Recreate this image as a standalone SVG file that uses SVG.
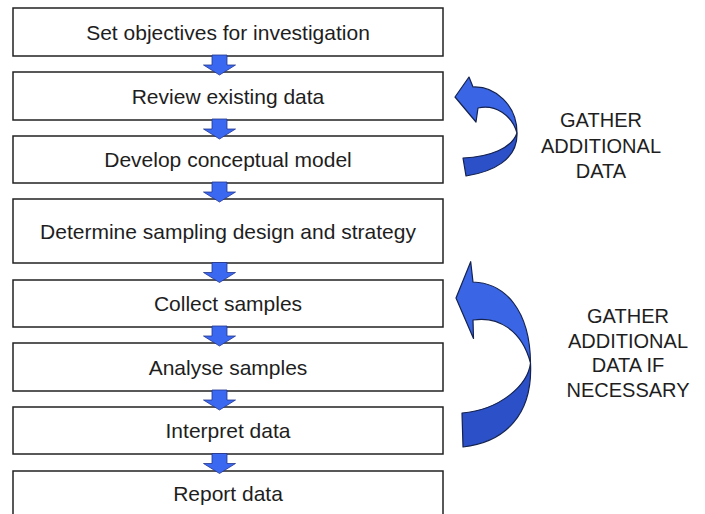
<svg xmlns="http://www.w3.org/2000/svg" width="705" height="514" viewBox="0 0 705 514">
  <defs>
    <style>
      .box { fill: #ffffff; stroke: #222222; stroke-width: 1.5; }
      .lbl { font-family: "Liberation Sans", Arial, sans-serif; font-size: 21px; fill: #1e1e1e; text-anchor: middle; }
      .note { font-family: "Liberation Sans", Arial, sans-serif; font-size: 20px; fill: #1e1e1e; text-anchor: middle; }
      .down { fill: #3b68f0; stroke: #22358f; stroke-width: 0.8; stroke-linejoin: miter; }
      .loop-lt { fill: #3a66e6; stroke: #14224f; stroke-width: 1.2; stroke-linejoin: round; }
      .loop-dk { fill: #2b50c8; stroke: #14224f; stroke-width: 1.2; stroke-linejoin: round; }
    </style>
    <!-- block arrow, origin at the top centre of the shaft -->
    <path id="down" d="M -7.5,-1 H 7.5 V 9 H 16 L 0,19 L -16,9 H -7.5 Z"/>
  </defs>

  <rect width="705" height="514" fill="#ffffff"/>

  <g id="n1">
    <rect class="box" x="13" y="8" width="430" height="48"/>
    <text class="lbl" x="228" y="39.5">Set objectives for investigation</text>
  </g>
  <g id="n2">
    <rect class="box" x="13" y="72" width="430" height="48"/>
    <text class="lbl" x="228" y="103.5">Review existing data</text>
  </g>
  <g id="n3">
    <rect class="box" x="13" y="136" width="430" height="47"/>
    <text class="lbl" x="228" y="167">Develop conceptual model</text>
  </g>
  <g id="n4">
    <rect class="box" x="13" y="199" width="430" height="64"/>
    <text class="lbl" x="228" y="238.5">Determine sampling design and strategy</text>
  </g>
  <g id="n5">
    <rect class="box" x="13" y="280" width="430" height="47"/>
    <text class="lbl" x="228" y="311">Collect samples</text>
  </g>
  <g id="n6">
    <rect class="box" x="13" y="343" width="430" height="48"/>
    <text class="lbl" x="228" y="374.5">Analyse samples</text>
  </g>
  <g id="n7">
    <rect class="box" x="13" y="407" width="430" height="47"/>
    <text class="lbl" x="228" y="438">Interpret data</text>
  </g>
  <g id="n8">
    <rect class="box" x="13" y="471" width="430" height="60"/>
    <text class="lbl" x="228" y="501">Report data</text>
  </g>

  <g id="connectors">
    <use href="#down" class="down" x="219.5" y="56"/>
    <use href="#down" class="down" x="219.5" y="120"/>
    <use href="#down" class="down" x="219.5" y="183"/>
    <use href="#down" class="down" x="219.5" y="263.5"/>
    <use href="#down" class="down" x="219.5" y="327"/>
    <use href="#down" class="down" x="219.5" y="391"/>
    <use href="#down" class="down" x="219.5" y="454.5"/>

    <!-- upper loop-back arrow -->
    <g id="loop1">
      <path class="loop-dk" d="M 517,133 C 512,148 490,157 463,158 L 466,176 C 492,172 518,160 517,133 Z"/>
      <path class="loop-lt" d="M 473,87 L 469,77 L 455,97 L 476,122 L 478,108 C 495,104 512,115 517,133 C 517,105 495,86 473,87 Z"/>
    </g>

    <!-- lower loop-back arrow -->
    <g id="loop2">
      <path class="loop-dk" d="M 530.5,363 C 528,385 500,410 462,413 L 463,447 C 505,442 533,415 530.5,363 Z"/>
      <path class="loop-lt" d="M 473,282 L 470.7,261.7 L 456,298 L 473.5,338.5 L 473,320 C 498,316 522,330 530.5,363 C 530,310 505,283 473,282 Z"/>
    </g>
  </g>

  <g id="note1">
    <text class="note" x="601" y="127">GATHER</text>
    <text class="note" x="601" y="153">ADDITIONAL</text>
    <text class="note" x="601" y="178">DATA</text>
  </g>
  <g id="note2">
    <text class="note" x="628" y="323">GATHER</text>
    <text class="note" x="628" y="347.5">ADDITIONAL</text>
    <text class="note" x="628" y="372">DATA IF</text>
    <text class="note" x="628" y="396.5">NECESSARY</text>
  </g>
</svg>
